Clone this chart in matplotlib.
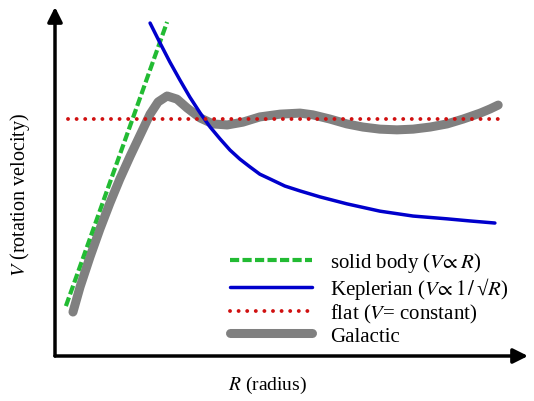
import numpy as np
import matplotlib
matplotlib.use('Agg')
import matplotlib.pyplot as plt

plt.rcParams['font.family'] = ['Liberation Serif', 'DejaVu Serif']
plt.rcParams['mathtext.fontset'] = 'stix'

# values (R, V in arbitrary units, 0..10)
solid_R = [0.23, 2.37]
solid_V = [1.43, 9.57]

kepler_R = [2.01, 2.22, 2.43, 2.64, 2.85, 3.07, 3.28, 3.49, 3.70, 3.91, 4.12, 4.33, 4.55,
            4.86, 5.18, 5.60, 6.17, 6.87, 7.57, 8.29, 8.77, 9.30]
kepler_V = [9.54, 8.97, 8.42, 7.91, 7.42, 6.96, 6.56, 6.22, 5.90, 5.64, 5.42, 5.21, 5.07,
            4.87, 4.73, 4.56, 4.36, 4.15, 4.01, 3.93, 3.87, 3.81]

flat_R = [0.27, 9.47]
flat_V = [6.79, 6.79]

gal_R = [0.38, 0.53, 0.74, 0.95, 1.16, 1.37, 1.59, 1.80, 2.01, 2.18, 2.37, 2.58, 2.79,
         3.07, 3.34, 3.64, 3.97, 4.33, 4.76, 5.18, 5.45, 5.81, 6.17, 6.51, 6.87, 7.23,
         7.57, 7.93, 8.29, 8.63, 8.99, 9.20, 9.37]
gal_V = [1.26, 1.98, 2.84, 3.64, 4.38, 5.07, 5.73, 6.33, 6.93, 7.28, 7.45, 7.36, 7.11,
         6.82, 6.65, 6.62, 6.70, 6.85, 6.93, 6.96, 6.91, 6.79, 6.65, 6.56, 6.50, 6.48,
         6.50, 6.56, 6.65, 6.79, 6.96, 7.08, 7.19]

labels = [r'solid body ($V\!\propto R$)',
          r'Keplerian ($V\!\propto 1\,/\,$' + '\u221a' + r'$R$)',
          r'flat ($V$= constant)',
          'Galactic']

fig = plt.figure(figsize=(5.34, 4.02), dpi=100)
ax = fig.add_axes([55/534, 45/402, 473/534, 349/402])
ax.set_xlim(0, 10)
ax.set_ylim(0, 10)
for s in ax.spines.values():
    s.set_visible(False)
ax.set_xticks([])
ax.set_yticks([])

ax.plot(solid_R, solid_V, color='#22bb33', lw=3, linestyle=(0, (2.2, 0.8)), label=labels[0], zorder=3)
ax.plot(kepler_R, kepler_V, color='#0000cc', lw=2.5, solid_capstyle='round',
        solid_joinstyle='round', label=labels[1], zorder=4)
ax.plot(flat_R, flat_V, color='#d01010', lw=2.8, linestyle=(0, (0.01, 2.2)),
        dash_capstyle='round', label=labels[2], zorder=5)
ax.plot(gal_R, gal_V, color='#808080', lw=6.5, solid_capstyle='round', solid_joinstyle='round',
        label=labels[3], zorder=2)

# axes arrows
arr = dict(arrowstyle='-|>', lw=2.5, color='k', mutation_scale=22, shrinkA=0, shrinkB=0)
ax.annotate('', xy=(1, 0), xytext=(0, 0), xycoords='axes fraction', arrowprops=arr, annotation_clip=False)
ax.annotate('', xy=(0, 1), xytext=(0, 0), xycoords='axes fraction', arrowprops=arr, annotation_clip=False)

ax.legend(loc='upper left', bbox_to_anchor=(230/534, 1 - 251/402), bbox_transform=fig.transFigure,
          frameon=False, fontsize=15, borderpad=0, borderaxespad=0,
          handlelength=3.95, handletextpad=0.85, labelspacing=0.05)

fig.text(267/534, 1 - 385/402, r'$R$ (radius)', ha='center', va='center', fontsize=14)
fig.text(20/534, 1 - 195/402, r'$V$ (rotation velocity)', ha='center', va='center',
         rotation=90, fontsize=14.5)

fig.savefig('out.png', dpi=100)
